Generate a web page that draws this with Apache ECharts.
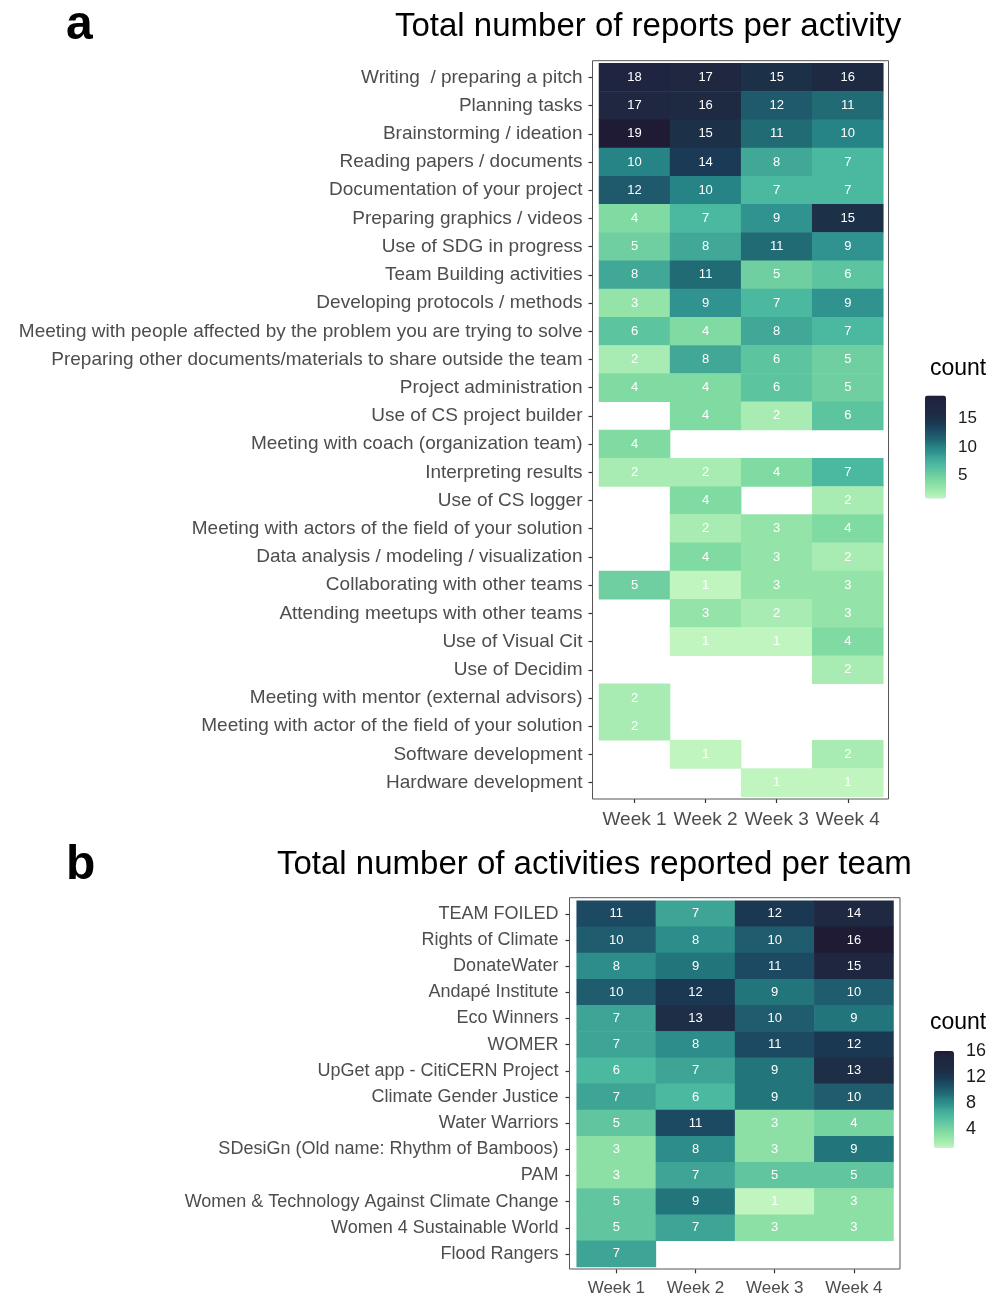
<!DOCTYPE html>
<html>
<head>
<meta charset="utf-8">
<script src="https://cdn.jsdelivr.net/npm/echarts@6/dist/echarts.min.js"></script>
<style>
html,body{margin:0;padding:0;background:#fff;}
#chart{width:995px;height:1294px;}
</style>
</head>
<body>
<div id="chart"></div>
<script>
// ---------- DATA ----------
const weeks = ['Week 1', 'Week 2', 'Week 3', 'Week 4'];

const activities = [
  'Writing  / preparing a pitch',
  'Planning tasks',
  'Brainstorming / ideation',
  'Reading papers / documents',
  'Documentation of your project',
  'Preparing graphics / videos',
  'Use of SDG in progress',
  'Team Building activities',
  'Developing protocols / methods',
  'Meeting with people affected by the problem you are trying to solve',
  'Preparing other documents/materials to share outside the team',
  'Project administration',
  'Use of CS project builder',
  'Meeting with coach (organization team)',
  'Interpreting results',
  'Use of CS logger',
  'Meeting with actors of the field of your solution',
  'Data analysis / modeling / visualization',
  'Collaborating with other teams',
  'Attending meetups with other teams',
  'Use of Visual Cit',
  'Use of Decidim',
  'Meeting with mentor (external advisors)',
  'Meeting with actor of the field of your solution',
  'Software development',
  'Hardware development'
];
const reportsWeek1 = [18, 17, 19, 10, 12, 4, 5, 8, 3, 6, 2, 4, null, 4, 2, null, null, null, 5, null, null, null, 2, 2, null, null];
const reportsWeek2 = [17, 16, 15, 14, 10, 7, 8, 11, 9, 4, 8, 4, 4, null, 2, 4, 2, 4, 1, 3, 1, null, null, null, 1, null];
const reportsWeek3 = [15, 12, 11, 8, 7, 9, 11, 5, 7, 8, 6, 6, 2, null, 4, null, 3, 3, 3, 2, 1, null, null, null, null, 1];
const reportsWeek4 = [16, 11, 10, 7, 7, 15, 9, 6, 9, 7, 5, 5, 6, null, 7, 2, 4, 2, 3, 3, 4, 2, null, null, 2, 1];

const teams = [
  'TEAM FOILED',
  'Rights of Climate',
  'DonateWater',
  'Andapé Institute',
  'Eco Winners',
  'WOMER',
  'UpGet app - CitiCERN Project',
  'Climate Gender Justice',
  'Water Warriors',
  'SDesiGn (Old name: Rhythm of Bamboos)',
  'PAM',
  'Women & Technology Against Climate Change',
  'Women 4 Sustainable World',
  'Flood Rangers'
];
const teamsWeek1 = [11, 10, 8, 10, 7, 7, 6, 7, 5, 3, 3, 5, 5, 7];
const teamsWeek2 = [7, 8, 9, 12, 13, 8, 7, 6, 11, 8, 7, 9, 7, null];
const teamsWeek3 = [12, 10, 11, 9, 10, 11, 9, 9, 3, 3, 5, 1, 3, null];
const teamsWeek4 = [14, 16, 15, 10, 9, 12, 13, 10, 4, 9, 5, 3, 3, null];

const rangeA = [1, 19];
const rangeB = [1, 16];
const legendTicksA = [5, 10, 15];
const legendTicksB = [4, 8, 12, 16];

const titleA = 'Total number of reports per activity';
const titleB = 'Total number of activities reported per team';

// ---------- STYLE ----------
const FONT = "'Liberation Sans', Arial, Helvetica, sans-serif";
const palette = ['#c0f5bf', '#a9ecb3', '#94e4a9', '#80dba2', '#6fcfa0', '#5dc4a0', '#4bb8a0', '#41a898',
  '#30938f', '#278486', '#216b75', '#1e5a6c', '#1c4a62', '#1a3a55', '#1c3048', '#1e2a42', '#1f2840', '#1f2540', '#1f1b35'];

function toCells(rowsNames, weekArrays) {
  const out = [];
  rowsNames.forEach((name, i) => {
    weekArrays.forEach((arr, j) => {
      if (arr[i] !== null && arr[i] !== undefined) out.push([j, i, arr[i]]);
    });
  });
  return out;
}
const cellsA = toCells(activities, [reportsWeek1, reportsWeek2, reportsWeek3, reportsWeek4]);
const cellsB = toCells(teams, [teamsWeek1, teamsWeek2, teamsWeek3, teamsWeek4]);

// layout (px)
const A = {left: 599, top: 63.3, width: 284.3, height: 733.4, frame: {x: 592.5, y: 60.7, w: 296, h: 738.3}};
const B = {left: 576.7, top: 900.7, width: 316.8, height: 366.3, frame: {x: 569.5, y: 897.7, w: 330.5, h: 371.3}};
const LA = {left: 925, top: 395.5, width: 21, height: 103};
const LB = {left: 934, top: 1051, width: 20, height: 97};

const chart = echarts.init(document.getElementById('chart'), null, {renderer: 'canvas'});

function catX(gi, fontSize, margin) {
  return {
    type: 'category', gridIndex: gi, data: weeks, position: 'bottom', offset: 2.3,
    axisLine: {show: false},
    axisTick: {show: true, alignWithLabel: true, length: 4, lineStyle: {color: '#333', width: 1.2}},
    axisLabel: {color: '#4d4d4d', fontSize: fontSize, fontFamily: FONT, margin: margin, interval: 0, hideOverlap: false},
    splitLine: {show: false}
  };
}
function catY(gi, data, offset, fontSize, margin) {
  return {
    type: 'category', gridIndex: gi, data: data, inverse: true, offset: offset,
    axisLine: {show: false},
    axisTick: {show: true, alignWithLabel: true, length: 4, lineStyle: {color: '#333', width: 1.2}},
    axisLabel: {color: '#4d4d4d', fontSize: fontSize, fontFamily: FONT, margin: margin, interval: 0},
    splitLine: {show: false}
  };
}
function legendY(gi, range, ticks, pos, showLabel, fontSize) {
  return {
    type: 'value', gridIndex: gi, min: range[0], max: range[1], position: pos,
    axisLine: {show: false},
    splitLine: {show: false},
    axisTick: {show: true, inside: true, length: 4, customValues: ticks, lineStyle: {color: 'rgba(255,255,255,0.8)', width: 1}},
    axisLabel: {show: showLabel, customValues: ticks, color: '#1a1a1a', fontSize: fontSize, fontFamily: FONT, margin: 12}
  };
}

const option = {
  backgroundColor: '#fff',
  animation: false,
  grid: [
    {left: A.left, top: A.top, width: A.width, height: A.height, containLabel: false, outerBoundsMode: 'none'},
    {left: B.left, top: B.top, width: B.width, height: B.height, containLabel: false, outerBoundsMode: 'none'},
    {left: LA.left, top: LA.top, width: LA.width, height: LA.height, containLabel: false, outerBoundsMode: 'none'},
    {left: LB.left, top: LB.top, width: LB.width, height: LB.height, containLabel: false, outerBoundsMode: 'none'}
  ],
  xAxis: [
    catX(0, 19, 11),
    catX(1, 17, 11),
    {type: 'category', gridIndex: 2, show: false, data: ['']},
    {type: 'category', gridIndex: 3, show: false, data: ['']}
  ],
  yAxis: [
    catY(0, activities, A.left - A.frame.x, 19, 10),
    catY(1, teams, B.left - B.frame.x, 18, 11),
    legendY(2, rangeA, legendTicksA, 'right', true, 17),
    legendY(2, rangeA, legendTicksA, 'left', false, 17),
    legendY(3, rangeB, legendTicksB, 'right', true, 18),
    legendY(3, rangeB, legendTicksB, 'left', false, 18)
  ],
  visualMap: [
    {type: 'continuous', seriesIndex: 0, min: rangeA[0], max: rangeA[1], calculable: false, show: true,
      left: LA.left, top: LA.top, itemWidth: LA.width, itemHeight: LA.height, padding: 0, text: null,
      showLabel: false, inRange: {color: palette}, hoverLink: false},
    {type: 'continuous', seriesIndex: 1, min: rangeB[0], max: rangeB[1], calculable: false, show: true,
      left: LB.left, top: LB.top, itemWidth: LB.width, itemHeight: LB.height, padding: 0, text: null,
      showLabel: false, inRange: {color: palette}, hoverLink: false}
  ],
  series: [
    {type: 'heatmap', xAxisIndex: 0, yAxisIndex: 0, data: cellsA,
      label: {show: true, color: '#ffffff', fontSize: 13, fontFamily: FONT},
      itemStyle: {borderWidth: 0}, emphasis: {disabled: true}},
    {type: 'heatmap', xAxisIndex: 1, yAxisIndex: 1, data: cellsB,
      label: {show: true, color: '#ffffff', fontSize: 13, fontFamily: FONT},
      itemStyle: {borderWidth: 0}, emphasis: {disabled: true}}
  ],
  graphic: [
    {type: 'rect', silent: true, shape: {x: A.frame.x, y: A.frame.y, width: A.frame.w, height: A.frame.h},
      style: {fill: 'none', stroke: '#555', lineWidth: 1}, z: 100},
    {type: 'rect', silent: true, shape: {x: B.frame.x, y: B.frame.y, width: B.frame.w, height: B.frame.h},
      style: {fill: 'none', stroke: '#555', lineWidth: 1}, z: 100},
    {type: 'text', x: 66, y: 26, style: {text: 'a', font: "bold 48px " + FONT, fill: '#000', textVerticalAlign: 'middle'}},
    {type: 'text', x: 66, y: 866, style: {text: 'b', font: "bold 48px " + FONT, fill: '#000', textVerticalAlign: 'middle'}},
    {type: 'text', x: 395, y: 27, style: {text: titleA, font: "33px " + FONT, fill: '#000', textVerticalAlign: 'middle'}},
    {type: 'text', x: 277, y: 865, style: {text: titleB, font: "33px " + FONT, fill: '#000', textVerticalAlign: 'middle'}},
    {type: 'text', x: 930, y: 369, style: {text: 'count', font: "23px " + FONT, fill: '#000', textVerticalAlign: 'middle'}},
    {type: 'text', x: 930, y: 1023, style: {text: 'count', font: "23px " + FONT, fill: '#000', textVerticalAlign: 'middle'}}
  ]
};
chart.setOption(option);
</script>
</body>
</html>
